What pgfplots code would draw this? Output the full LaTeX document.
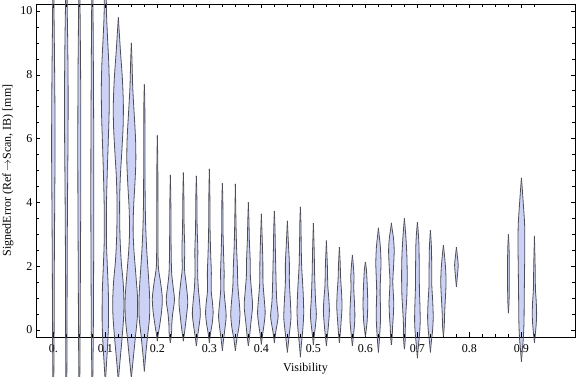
\documentclass[border=0pt]{standalone}
\usepackage{pgfplots}
\pgfplotsset{compat=1.18}
\usepgfplotslibrary{fillbetween}
\usepackage{pgfplotstable}
\usepackage{fontspec}
\setmainfont{Liberation Serif}

\definecolor{vfill}{RGB}{204,210,246}
\definecolor{vedge}{RGB}{78,78,88}

\pgfplotsset{
  layers/mylayers/.define layer set={axis background,axis grid,axis ticks,axis lines,pre main,main,axis tick labels,axis descriptions,axis foreground}{},
}

% violin profiles: y = value, w = half width (in px of the original chart)
\pgfplotstableread[row sep=\\]{y w\\ -4 0\\ -1.5 0.5\\ 0 0.8\\ 2 1.0\\ 4 1.4\\ 5.5 1.7\\ 7 1.6\\ 8.5 1.2\\ 10 0.7\\ 12 0.4\\ 15 0\\}\vka
\pgfplotstableread[row sep=\\]{y w\\ -4 0\\ -1.5 0.5\\ 0 0.7\\ 2.5 0.9\\ 4.5 1.3\\ 6 1.7\\ 7.5 1.8\\ 9 1.4\\ 10.3 0.8\\ 12 0.4\\ 15 0\\}\vkb
\pgfplotstableread[row sep=\\]{y w\\ -4 0\\ -1.5 0.5\\ 0 0.8\\ 2 1.1\\ 4 1.4\\ 6 1.5\\ 8 1.3\\ 9.5 0.9\\ 11 0.5\\ 15 0\\}\vkc
\pgfplotstableread[row sep=\\]{y w\\ -4 0\\ -1.5 0.5\\ 0 1.0\\ 2 1.3\\ 4 1.5\\ 6 1.4\\ 8 1.1\\ 9.5 0.8\\ 11 0.5\\ 15 0\\}\vkd
\pgfplotstableread[row sep=\\]{y w\\ -1.65 0\\ -1.0 1.3\\ -0.4 2.4\\ 0.3 3.2\\ 1.2 3.0\\ 2.0 2.0\\ 2.8 1.1\\ 3.8 1.1\\ 4.8 1.8\\ 5.8 2.8\\ 6.8 3.8\\ 7.6 4.0\\ 8.4 3.4\\ 9.3 2.0\\ 10.3 1.0\\ 14 0\\}\vke
\pgfplotstableread[row sep=\\]{y w\\ -1.6 0\\ -1.0 1.6\\ -0.3 3.6\\ 0.4 5.3\\ 0.9 5.6\\ 1.5 4.8\\ 2.2 2.8\\ 3.0 1.6\\ 4.0 1.3\\ 4.8 2.0\\ 5.6 3.5\\ 6.4 4.8\\ 7.1 5.0\\ 7.9 4.0\\ 8.7 2.2\\ 9.3 1.0\\ 9.8 0\\}\vkf
\pgfplotstableread[row sep=\\]{y w\\ -1.5 0\\ -1.0 1.6\\ -0.3 3.8\\ 0.4 6.0\\ 1.0 6.2\\ 1.7 4.6\\ 2.5 2.6\\ 3.1 1.8\\ 3.8 2.2\\ 4.6 3.6\\ 5.3 4.5\\ 6.0 4.2\\ 6.8 2.8\\ 7.6 1.4\\ 8.4 0.7\\ 9.0 0\\}\vkg
\pgfplotstableread[row sep=\\]{y w\\ -1.3 0\\ -0.8 1.3\\ -0.2 3.2\\ 0.4 5.2\\ 1.0 5.3\\ 1.6 4.3\\ 2.5 2.4\\ 3.3 1.3\\ 4.2 0.8\\ 5.5 0.6\\ 7.0 0.5\\ 7.7 0\\}\vkh
\pgfplotstableread[row sep=\\]{y w\\ -0.35 0\\ -0.15 0.8\\ 0.2 2.6\\ 0.6 4.3\\ 1.0 5.0\\ 1.5 3.2\\ 2.0 1.0\\ 3.0 0.6\\ 5.0 0.5\\ 6.1 0\\}\vki
\pgfplotstableread[row sep=\\]{y w\\ -0.4 0\\ -0.1 1.2\\ 0.2 1.5\\ 0.5 2.3\\ 0.95 4.1\\ 1.4 2.6\\ 1.8 1.3\\ 2.5 0.8\\ 4.0 0.5\\ 4.86 0\\}\vkj
\pgfplotstableread[row sep=\\]{y w\\ -0.35 0\\ 0.0 1.5\\ 0.4 3.0\\ 0.9 4.4\\ 1.5 2.6\\ 1.9 1.2\\ 2.6 1.4\\ 3.2 0.8\\ 4.2 0.5\\ 4.93 0\\}\vkk
\pgfplotstableread[row sep=\\]{y w\\ -0.5 0\\ -0.2 1.2\\ 0.15 2.8\\ 0.5 4.0\\ 0.9 3.2\\ 1.3 2.0\\ 1.8 1.3\\ 2.5 1.5\\ 3.2 0.8\\ 4.2 0.5\\ 4.83 0\\}\vkl
\pgfplotstableread[row sep=\\]{y w\\ -0.4 0\\ -0.1 1.2\\ 0.2 2.8\\ 0.55 3.8\\ 0.95 2.8\\ 1.25 1.8\\ 1.8 2.0\\ 2.4 1.3\\ 3.2 0.7\\ 4.2 0.5\\ 5.05 0\\}\vkm
\pgfplotstableread[row sep=\\]{y w\\ -0.65 0\\ -0.3 1.2\\ 0.1 2.8\\ 0.45 3.8\\ 0.9 2.6\\ 1.3 1.6\\ 1.8 1.8\\ 2.4 1.2\\ 3.2 0.6\\ 4.0 0.5\\ 4.6 0\\}\vkn
\pgfplotstableread[row sep=\\]{y w\\ -0.65 0\\ -0.3 1.4\\ 0.1 3.6\\ 0.5 4.6\\ 0.9 3.8\\ 1.4 2.5\\ 2.0 2.0\\ 2.6 1.2\\ 3.4 0.6\\ 4.58 0\\}\vko
\pgfplotstableread[row sep=\\]{y w\\ -0.5 0\\ -0.2 1.2\\ 0.25 2.6\\ 0.75 4.2\\ 1.2 3.2\\ 1.7 2.0\\ 2.2 1.8\\ 2.8 1.0\\ 3.4 0.6\\ 4.0 0\\}\vkp
\pgfplotstableread[row sep=\\]{y w\\ -0.45 0\\ -0.15 1.2\\ 0.2 2.8\\ 0.55 3.8\\ 1.0 2.8\\ 1.5 1.6\\ 2.1 1.5\\ 2.8 0.9\\ 3.64 0\\}\vkq
\pgfplotstableread[row sep=\\]{y w\\ -0.4 0\\ -0.1 1.2\\ 0.2 2.8\\ 0.45 3.8\\ 0.9 2.4\\ 1.4 1.8\\ 1.8 1.5\\ 2.5 1.0\\ 3.2 0.6\\ 3.73 0\\}\vkr
\pgfplotstableread[row sep=\\]{y w\\ -0.7 0\\ -0.35 1.2\\ 0.05 2.6\\ 0.4 3.6\\ 0.9 3.0\\ 1.5 2.0\\ 2.1 2.0\\ 2.6 1.2\\ 3.0 0.6\\ 3.42 0\\}\vks
\pgfplotstableread[row sep=\\]{y w\\ -0.85 0\\ -0.45 1.0\\ 0.0 2.4\\ 0.5 3.3\\ 1.0 3.0\\ 1.5 2.2\\ 2.0 1.3\\ 2.7 0.8\\ 3.3 0.6\\ 3.86 0\\}\vkt
\pgfplotstableread[row sep=\\]{y w\\ -0.47 0\\ -0.15 1.0\\ 0.2 2.3\\ 0.5 3.0\\ 0.9 2.2\\ 1.3 1.7\\ 1.8 1.2\\ 2.5 0.8\\ 3.35 0\\}\vku
\pgfplotstableread[row sep=\\]{y w\\ -0.5 0\\ -0.2 1.0\\ 0.2 2.2\\ 0.6 3.0\\ 1.0 2.4\\ 1.4 1.4\\ 2.0 1.0\\ 2.8 0\\}\vkv
\pgfplotstableread[row sep=\\]{y w\\ -0.4 0\\ -0.1 0.9\\ 0.3 1.8\\ 0.7 2.6\\ 1.1 2.3\\ 1.6 1.3\\ 2.1 0.8\\ 2.6 0\\}\vkw
\pgfplotstableread[row sep=\\]{y w\\ -0.5 0\\ -0.2 1.0\\ 0.2 2.2\\ 0.5 2.5\\ 0.9 2.0\\ 1.3 1.4\\ 1.7 1.6\\ 2.0 1.0\\ 2.35 0\\}\vkx
\pgfplotstableread[row sep=\\]{y w\\ -0.2 0\\ 0.0 0.8\\ 0.3 1.8\\ 0.7 2.3\\ 1.1 2.2\\ 1.5 1.7\\ 1.9 1.0\\ 2.13 0\\}\vky
\pgfplotstableread[row sep=\\]{y w\\ -0.7 0\\ -0.35 0.9\\ 0.0 1.6\\ 0.4 2.2\\ 0.8 2.0\\ 1.2 1.7\\ 1.7 2.2\\ 2.1 2.6\\ 2.6 2.0\\ 2.9 1.0\\ 3.2 0\\}\vkz
\pgfplotstableread[row sep=\\]{y w\\ -0.47 0\\ -0.2 0.8\\ 0.1 1.2\\ 0.5 2.0\\ 0.9 2.3\\ 1.5 1.4\\ 2.0 2.2\\ 2.5 2.8\\ 2.9 2.0\\ 3.15 0.8\\ 3.36 0\\}\vkza
\pgfplotstableread[row sep=\\]{y w\\ -0.6 0\\ -0.3 0.8\\ 0.2 1.0\\ 0.6 1.6\\ 1.1 2.5\\ 1.7 2.8\\ 2.3 2.5\\ 2.8 1.7\\ 3.2 0.8\\ 3.5 0\\}\vkzb
\pgfplotstableread[row sep=\\]{y w\\ -0.88 0\\ -0.5 1.0\\ -0.1 2.2\\ 0.3 2.8\\ 0.8 2.5\\ 1.3 2.0\\ 2.0 1.8\\ 2.6 1.6\\ 3.0 1.0\\ 3.38 0\\}\vkzc
\pgfplotstableread[row sep=\\]{y w\\ -0.7 0\\ -0.35 1.0\\ 0.0 2.2\\ 0.4 2.8\\ 0.9 2.3\\ 1.4 1.4\\ 2.0 1.3\\ 2.6 1.0\\ 3.13 0\\}\vkzd
\pgfplotstableread[row sep=\\]{y w\\ -0.2 0\\ 0.1 0.8\\ 0.5 1.2\\ 0.9 1.8\\ 1.4 2.6\\ 1.8 2.4\\ 2.2 1.5\\ 2.66 0\\}\vkze
\pgfplotstableread[row sep=\\]{y w\\ 1.35 0\\ 1.7 1.0\\ 2.04 1.8\\ 2.3 1.0\\ 2.6 0\\}\vkzf
\pgfplotstableread[row sep=\\]{y w\\ 0.53 0\\ 1.0 0.7\\ 2.0 0.9\\ 2.6 0.6\\ 3.0 0\\}\vkzg
\pgfplotstableread[row sep=\\]{y w\\ -1.0 0\\ -0.6 1.0\\ -0.2 2.0\\ 0.3 2.6\\ 1.0 2.8\\ 1.8 3.1\\ 2.6 3.4\\ 3.3 3.2\\ 3.9 2.0\\ 4.4 0.9\\ 4.77 0\\}\vkzh
\pgfplotstableread[row sep=\\]{y w\\ -0.4 0\\ -0.1 1.0\\ 0.2 1.8\\ 0.5 2.2\\ 0.9 1.8\\ 1.3 1.0\\ 2.0 0.7\\ 2.95 0\\}\vkzi

\newcommand{\violin}[3]{%
  \addplot[vedge, line width=0.8pt, smooth, tension=0.5, name path=R#1]
    table[x expr={#2+\thisrow{w}*0.0019231}, y=y]{#3};
  \addplot[vedge, line width=0.8pt, smooth, tension=0.5, name path=L#1]
    table[x expr={#2-\thisrow{w}*0.0019231}, y=y]{#3};
  \addplot[vfill, draw=none] fill between[of=R#1 and L#1];
}

\begin{document}
\begin{tikzpicture}
\begin{axis}[
  name=ax,
  set layers=mylayers,
  scale only axis,
  width=539pt, height=333pt,
  xmin=-0.0333, xmax=1.003,
  ymin=-0.22, ymax=10.22,
  clip=false,
  axis line style={black, line width=0.8pt},
  tick style={black, line width=0.6pt},
  major tick length=4.5pt,
  minor tick length=2.7pt,
  xtick={0,0.1,0.2,0.3,0.4,0.5,0.6,0.7,0.8,0.9},
  xticklabels={0.,0.1,0.2,0.3,0.4,0.5,0.6,0.7,0.8,0.9},
  minor xtick={0.025,0.05,0.075,0.125,0.15,0.175,0.225,0.25,0.275,0.325,0.35,0.375,0.425,0.45,0.475,0.525,0.55,0.575,0.625,0.65,0.675,0.725,0.75,0.775,0.825,0.85,0.875,0.925},
  ytick={0,2,4,6,8,10},
  minor y tick num=3,
  /pgf/number format/assume math mode=true,
  tick label style={font=\fontsize{12}{14}\selectfont, black},
  xticklabel style={anchor=base, yshift=-16pt},
  xlabel={Visibility},
  ylabel={SignedError (Ref\,$\rightarrow$Scan, IB) [mm]},
  label style={font=\fontsize{12}{14}\selectfont},
  xlabel style={at={(axis description cs:0.5,-0.105)}, anchor=base},
  ylabel style={at={(axis description cs:-0.052,0.5)}, anchor=center},
]
\violin{a}{0}{\vka}
\violin{b}{0.025}{\vkb}
\violin{c}{0.05}{\vkc}
\violin{d}{0.075}{\vkd}
\violin{e}{0.1}{\vke}
\violin{f}{0.125}{\vkf}
\violin{g}{0.15}{\vkg}
\violin{h}{0.175}{\vkh}
\violin{i}{0.2}{\vki}
\violin{j}{0.225}{\vkj}
\violin{k}{0.25}{\vkk}
\violin{l}{0.275}{\vkl}
\violin{m}{0.3}{\vkm}
\violin{n}{0.325}{\vkn}
\violin{o}{0.35}{\vko}
\violin{p}{0.375}{\vkp}
\violin{q}{0.4}{\vkq}
\violin{r}{0.425}{\vkr}
\violin{s}{0.45}{\vks}
\violin{t}{0.475}{\vkt}
\violin{u}{0.5}{\vku}
\violin{v}{0.525}{\vkv}
\violin{w}{0.55}{\vkw}
\violin{x}{0.575}{\vkx}
\violin{y}{0.6}{\vky}
\violin{z}{0.625}{\vkz}
\violin{za}{0.65}{\vkza}
\violin{zb}{0.675}{\vkzb}
\violin{zc}{0.7}{\vkzc}
\violin{zd}{0.725}{\vkzd}
\violin{ze}{0.75}{\vkze}
\violin{zf}{0.775}{\vkzf}
\violin{zg}{0.875}{\vkzg}
\violin{zh}{0.9}{\vkzh}
\violin{zi}{0.925}{\vkzi}
\end{axis}
\pgfresetboundingbox
\path ([xshift=-36pt,yshift=-40pt]ax.south west) rectangle ([xshift=1pt,yshift=4pt]ax.north east);
\end{tikzpicture}
\end{document}
